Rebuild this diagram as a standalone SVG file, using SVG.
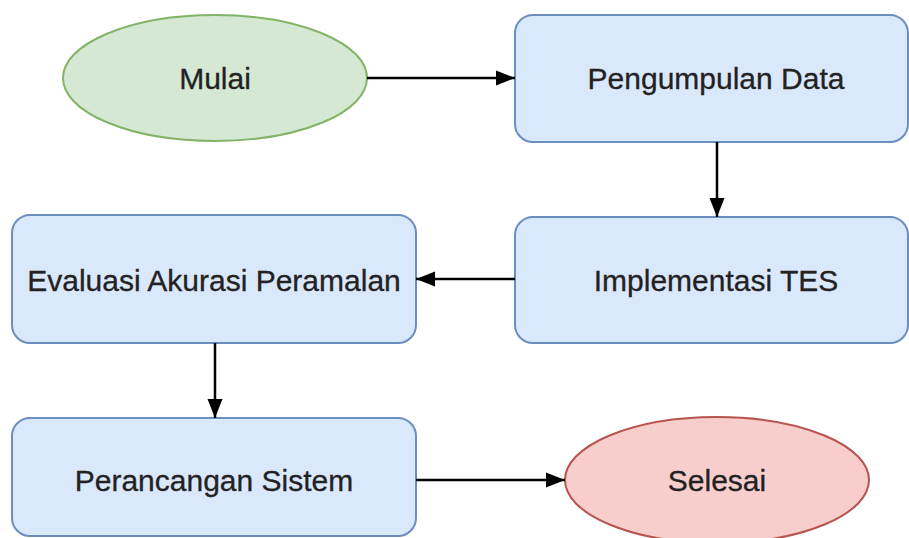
<svg xmlns="http://www.w3.org/2000/svg" width="909" height="538" viewBox="0 0 909 538">
<style>
.box{fill:#dae8fc;stroke:#6c8ebf;stroke-width:2}
.start{fill:#d5e8d4;stroke:#82b366;stroke-width:2}
.end{fill:#f8cecc;stroke:#b85450;stroke-width:2}
.lbl{font-family:"Liberation Sans",Arial,sans-serif;font-size:30px;fill:#222;stroke:#222;stroke-width:0.3;text-anchor:middle}
.edge{stroke:#000;stroke-width:2.5;fill:none;marker-end:url(#arr)}
</style>
<defs>
<marker id="arr" markerUnits="userSpaceOnUse" markerWidth="20" markerHeight="18" refX="19" refY="9" orient="auto">
<path d="M0,1.5 L19,9 L0,16.5 Z" fill="#000"/>
</marker>
</defs>
<rect width="909" height="538" fill="#fff"/>
<g id="mulai"><ellipse class="start" cx="215" cy="78" rx="152" ry="63"/><text class="lbl" x="215" y="89">Mulai</text></g>
<g id="pengumpulan"><rect class="box" x="515" y="15" width="393" height="127" rx="18"/><text class="lbl" x="716" y="89">Pengumpulan Data</text></g>
<g id="implementasi"><rect class="box" x="515" y="217" width="393" height="126" rx="18"/><text class="lbl" x="716" y="291">Implementasi TES</text></g>
<g id="evaluasi"><rect class="box" x="12" y="215" width="404" height="128" rx="18"/><text class="lbl" x="214" y="291">Evaluasi Akurasi Peramalan</text></g>
<g id="perancangan"><rect class="box" x="12" y="418" width="404" height="118" rx="18"/><text class="lbl" x="214" y="491">Perancangan Sistem</text></g>
<g id="selesai"><ellipse class="end" cx="717" cy="480" rx="152" ry="63"/><text class="lbl" x="717" y="491">Selesai</text></g>
<g id="connectors">
<line class="edge" x1="367" y1="78" x2="515" y2="78"/>
<line class="edge" x1="717" y1="142" x2="717" y2="217"/>
<line class="edge" x1="515" y1="279" x2="416" y2="279"/>
<line class="edge" x1="215" y1="343" x2="215" y2="418"/>
<line class="edge" x1="416" y1="480" x2="565" y2="480"/>
</g>
</svg>
